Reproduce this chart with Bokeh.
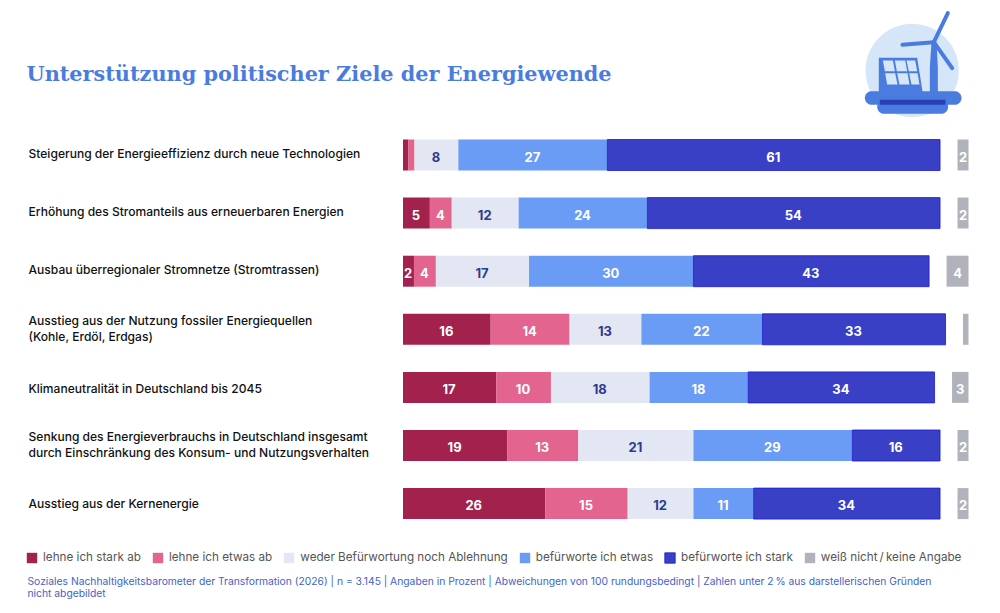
import numpy as np
from bokeh.plotting import figure
from bokeh.models import ColumnDataSource, Legend, LegendItem, Range1d
from bokeh.core.properties import value
from bokeh.embed import file_html
from bokeh.resources import INLINE

title = "Unterstützung politischer Ziele der Energiewende"
categories = [
    "Steigerung der Energieeffizienz durch neue Technologien",
    "Erhöhung des Stromanteils aus erneuerbaren Energien",
    "Ausbau überregionaler Stromnetze (Stromtrassen)",
    "Ausstieg aus der Nutzung fossiler Energiequellen\n(Kohle, Erdöl, Erdgas)",
    "Klimaneutralität in Deutschland bis 2045",
    "Senkung des Energieverbrauchs in Deutschland insgesamt\ndurch Einschränkung des Konsum- und Nutzungsverhalten",
    "Ausstieg aus der Kernenergie",
]
series = ["lehne ich stark ab", "lehne ich etwas ab", "weder Befürwortung noch Ablehnung",
          "befürworte ich etwas", "befürworte ich stark"]
dk_label = "weiß nicht\u2009/\u2009keine Angabe"
stark_ab = [1.0, 4.9, 2.0, 16.0, 17.0, 19.0, 26.0]
etwas_ab = [1.1, 4.0, 4.0, 14.4, 10.0, 13.0, 15.0]
weder = [8.0, 12.2, 17.0, 13.1, 18.0, 21.0, 12.0]
etwas = [27.2, 23.5, 30.0, 22.1, 18.0, 29.0, 11.0]
stark = [60.7, 53.4, 43.0, 33.4, 34.0, 16.0, 34.0]
unknown = [2.0, 2.0, 4.0, 1.0, 3.0, 2.0, 2.0]
labels = [
    ["", "5", "2", "16", "17", "19", "26"],
    ["", "4", "4", "14", "10", "13", "15"],
    ["8", "12", "17", "13", "18", "21", "12"],
    ["27", "24", "30", "22", "18", "29", "11"],
    ["61", "54", "43", "33", "34", "16", "34"],
]
unknown_labels = ["2", "2", "4", "", "3", "2", "2"]
footer = ("Soziales Nachhaltigkeitsbarometer der Transformation (2026) | n = 3.145 | Angaben in Prozent | "
          "Abweichungen von 100 rundungsbedingt | Zahlen unter 2\u2009% aus darstellerischen Gründen\nnicht abgebildet")

colors = ["#a3214d", "#e3648e", "#e3e6f3", "#6a9bf5", "#3940c6"]
label_colors = ["white", "white", "#2f3a8f", "white", "white"]
GREY = "#b0b3bb"
BODY = "Inter"

W, H = 1000, 613
PX_X, PX_Y = 5.48, 58.1     # pixels per percent / per row
X0, Y0 = 402.5, 154.5       # picture position of 0 % and first row
UNK_END = (968 - X0) / PX_X

x_start = -X0 / PX_X
y_top = -Y0 / PX_Y
p = figure(width=W, height=H, output_backend="svg", toolbar_location=None,
           x_range=Range1d(x_start, x_start + W / PX_X),
           y_range=Range1d(y_top + H / PX_Y, y_top),
           min_border=0, outline_line_color=None, background_fill_color="white")
p.axis.visible = False
p.grid.visible = False

sx = lambda px: (np.asarray(px, float) - X0) / PX_X
sy = lambda py: (np.asarray(py, float) - Y0) / PX_Y

rows = np.arange(len(categories))
values = np.array([stark_ab, etwas_ab, weder, etwas, stark])
rights = np.cumsum(values, axis=0)
lefts = rights - values
BAR_H = 31 / PX_Y
renderers = []
for i, name in enumerate(series):
    src = ColumnDataSource(dict(y=rows, left=lefts[i], right=rights[i], lab=labels[i],
                                mid=(lefts[i] + rights[i]) / 2))
    line = "#1a1ad0" if i == 4 else None
    r = p.hbar(y="y", left="left", right="right", height=BAR_H, source=src,
               fill_color=colors[i], line_color=line, line_width=0.8)
    renderers.append(r)
    p.text(x="mid", y="y", text="lab", source=src, text_color=label_colors[i],
           text_font=value(BODY), text_font_style="bold", text_font_size="13px",
           text_align="center", text_baseline="middle", y_offset=1.5, x_offset=-0.5)

un = np.array(unknown)
src = ColumnDataSource(dict(y=rows, left=UNK_END - un, right=np.full(len(un), UNK_END),
                            mid=UNK_END - un / 2, lab=unknown_labels))
grey_r = p.hbar(y="y", left="left", right="right", height=BAR_H, source=src,
                fill_color=GREY, line_color=None)
renderers.append(grey_r)
p.text(x="mid", y="y", text="lab", source=src, text_color="white", text_font=value(BODY),
       text_font_style="bold", text_font_size="13px", text_align="center",
       text_baseline="middle", y_offset=1.5)

# category labels
cat_offset = [-1.5, -1.5, -1.5, -0.5, 1.5, -1, 0]
p.text(x=[sx(28)] * 7, y=rows, text=categories, y_offset=cat_offset, text_color="#111111",
       text_font=value("Inter Medium"), text_font_size="12.07px", text_align="left",
       text_baseline="middle", text_line_height=1.07)

# title and footer
p.text(x=[sx(27)], y=[sy(73)], text=[title], text_color="#4a7ce0", text_font=value("DejaVu Serif"),
       text_font_style="bold", text_font_size="20.8px", text_align="left", text_baseline="middle", x_offset=-1)
p.text(x=[sx(27)], y=[sy(574)], text=[footer], text_color="#3f63c8", text_font=value(BODY),
       text_font_size="10.3px", text_align="left", text_baseline="top", text_line_height=1.06)

# legend
legend = Legend(items=[LegendItem(label=n, renderers=[r]) for n, r in zip(series + [dk_label], renderers)],
                orientation="horizontal", location=(25, 49), padding=0, margin=0, spacing=10,
                glyph_width=13, glyph_height=13, label_standoff=5, border_line_color=None,
                background_fill_alpha=0, label_text_font=BODY, label_text_font_size="11.7px",
                label_text_color="#555555", label_height=14)
p.add_layout(legend)

# icon (zoom coordinates of the pictogram)
ix = lambda z: sx(850 + np.asarray(z, float) / 3)
iy = lambda z: sy(np.asarray(z, float) / 3)
BLUE = "#4a7ce0"
t = np.linspace(0, 2 * np.pi, 80)
p.patch(ix(185 + 140 * np.cos(t)), iy(210 + 140 * np.sin(t)), fill_color="#d6e6f9", line_color=None)
def pill(x0, x1, y0, y1, color):
    r = (y1 - y0) / 2
    a = np.linspace(-np.pi / 2, np.pi / 2, 16)
    xs = np.r_[x1 - r + r * np.cos(a), x0 + r - r * np.cos(a)]
    ys = np.r_[(y0 + y1) / 2 + r * np.sin(a), (y0 + y1) / 2 - r * np.sin(a)]
    p.patch(ix(xs), iy(ys), fill_color=color, line_color=None)
p.patch(ix([85, 200, 216, 216, 85]), iy([172, 172, 272, 285, 285]), fill_color=BLUE, line_color=None)
cells = [[(97, 180), (127, 180), (133, 212), (103, 212)], [(133, 180), (164, 180), (170, 212), (139, 212)],
         [(168, 180), (194, 180), (200, 212), (175, 212)], [(104, 218), (134, 218), (141, 252), (110, 252)],
         [(140, 218), (171, 218), (177, 252), (147, 252)], [(176, 218), (201, 218), (207, 252), (183, 252)]]
for c in cells:
    a = np.array(c, float)
    p.patch(ix(a[:, 0]), iy(a[:, 1]), fill_color="#d6e6f9", line_color=None)
p.patch(ix([243, 258, 262, 262, 238, 238]), iy([125, 125, 200, 285, 285, 200]), fill_color=BLUE, line_color=None)
for bx, by in [(292, 38), (156, 133), (305, 203)]:
    p.line(ix([250, bx]), iy([125, by]), line_color=BLUE, line_width=4, line_cap="round")
pill(43, 333, 272, 313, BLUE)
pill(80, 293, 298, 340, BLUE)
p.patch(ix([88, 285, 285, 88]), iy([298, 298, 313, 313]), fill_color="#2a3fb5", line_color=None)

open("out.html", "w").write(file_html(p, INLINE))
